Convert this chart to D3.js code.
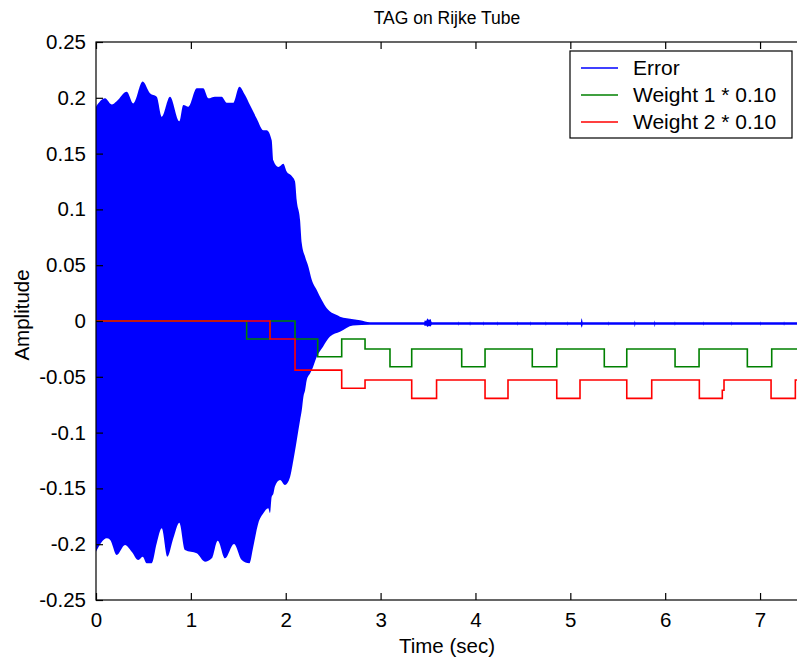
<!DOCTYPE html>
<html>
<head>
<meta charset="utf-8">
<script src="https://cdn.jsdelivr.net/npm/d3@7"></script>
<style>
  html, body { margin: 0; padding: 0; background: #ffffff; }
  svg { display: block; }
  text { font-family: "Liberation Sans", Arial, Helvetica, sans-serif; fill: #000; }
</style>
</head>
<body>
<svg id="chart" width="797" height="664"></svg>
<script>
// Time axis and amplitude ticks
const xTicks = [0, 1, 2, 3, 4, 5, 6, 7];
const yTicks = [0.25, 0.2, 0.15, 0.1, 0.05, 0, -0.05, -0.1, -0.15, -0.2, -0.25];
const yTickLabels = ["0.25", "0.2", "0.15", "0.1", "0.05", "0", "-0.05", "-0.1", "-0.15", "-0.2", "-0.25"];

// Error signal: oscillation envelope (upper and lower extremes over time)
const errUpperT = [0, 0.095, 0.165, 0.218, 0.324, 0.393, 0.492, 0.569, 0.640, 0.693, 0.780, 0.878, 0.920, 0.973,
  1.062, 1.131, 1.184, 1.254, 1.325, 1.378, 1.447, 1.511, 1.571, 1.623, 1.694, 1.764, 1.800, 1.852, 1.869, 1.922,
  1.975, 2.010, 2.063, 2.098, 2.116, 2.151, 2.169, 2.204, 2.239, 2.275, 2.327, 2.380, 2.433, 2.467, 2.538, 2.572,
  2.643, 2.783, 2.888];
const errUpperV = [0.192, 0.1995, 0.194, 0.197, 0.2055, 0.195, 0.2145, 0.204, 0.201, 0.183, 0.201, 0.179, 0.1935, 0.192,
  0.2085, 0.2085, 0.1995, 0.201, 0.201, 0.1956, 0.1956, 0.210, 0.2025, 0.1935, 0.1815, 0.171, 0.171, 0.162, 0.144, 0.138,
  0.141, 0.134, 0.130, 0.125, 0.108, 0.0905, 0.0696, 0.0576, 0.0487, 0.0367, 0.0278, 0.0188, 0.0114, 0.0085, 0.0054, 0.0039,
  0.0024, 0.0007, -0.0012];
const errLowerT = [0, 0.113, 0.148, 0.218, 0.306, 0.376, 0.446, 0.492, 0.534, 0.587, 0.640, 0.693, 0.752, 0.815, 0.878,
  0.938, 1.062, 1.149, 1.220, 1.283, 1.360, 1.455, 1.536, 1.616, 1.658, 1.711, 1.764, 1.816, 1.834, 1.852, 1.869,
  1.887, 1.940, 1.992, 2.045, 2.080, 2.116, 2.151, 2.169, 2.186, 2.204, 2.221, 2.256, 2.275, 2.327, 2.393, 2.467,
  2.572, 2.709, 2.888];
const errLowerV = [-0.2067, -0.1947, -0.196, -0.2097, -0.2007, -0.2067, -0.2142, -0.2112, -0.2171, -0.2171, -0.1992, -0.1858,
  -0.2112, -0.1947, -0.1807, -0.2052, -0.2082, -0.2157, -0.2127, -0.1968, -0.2127, -0.1998, -0.2142, -0.2171, -0.2022,
  -0.1813, -0.1723, -0.1678, -0.172, -0.1574, -0.155, -0.148, -0.1425, -0.147, -0.140, -0.125, -0.107, -0.089, -0.080,
  -0.068, -0.062, -0.053, -0.047, -0.044, -0.032, -0.023, -0.014, -0.0096, -0.004, -0.0033];

// Residual error after convergence: flat trace with brief bursts
const tailT = [3.000, 3.460, 3.465, 3.480, 3.495, 3.510, 3.525, 3.540, 3.820, 3.823, 3.826, 3.940, 3.943, 3.946,
  4.080, 4.083, 4.086, 4.230, 4.233, 4.236, 4.440, 4.443, 4.446, 4.580, 4.583, 4.586, 4.740, 4.743, 4.746,
  4.970, 4.973, 4.976, 5.110, 5.115, 5.120, 5.125, 5.130, 5.400, 5.403, 5.406, 5.675, 5.680, 5.685,
  5.885, 5.890, 5.895, 6.100, 6.103, 6.106, 6.400, 6.403, 6.406, 6.700, 6.703, 6.706, 7.000, 7.003, 7.006,
  7.250, 7.253, 7.256, 7.400];
const tailUpper = [-0.0012, -0.0012, 0.0005, 0.0002, 0.0022, 0.0010, 0.0018, -0.0012, -0.0012, -0.0002, -0.0012,
  -0.0012, -0.0002, -0.0012, -0.0012, -0.0002, -0.0012, -0.0012, -0.0002, -0.0012, -0.0012, -0.0002, -0.0012,
  -0.0012, -0.0002, -0.0012, -0.0012, -0.0002, -0.0012, -0.0012, -0.0002, -0.0012, -0.0012, 0.0010, 0.0025, 0.0008,
  -0.0012, -0.0012, -0.0002, -0.0012, -0.0012, 0.0005, -0.0012, -0.0012, 0.0005, -0.0012, -0.0012, -0.0002, -0.0012,
  -0.0012, -0.0002, -0.0012, -0.0012, -0.0002, -0.0012, -0.0012, -0.0002, -0.0012, -0.0012, -0.0002, -0.0012, -0.0012];
const tailLower = [-0.0033, -0.0033, -0.0045, -0.0040, -0.0052, -0.0045, -0.0050, -0.0033, -0.0033, -0.0044, -0.0033,
  -0.0033, -0.0044, -0.0033, -0.0033, -0.0044, -0.0033, -0.0033, -0.0044, -0.0033, -0.0033, -0.0044, -0.0033,
  -0.0033, -0.0044, -0.0033, -0.0033, -0.0044, -0.0033, -0.0033, -0.0044, -0.0033, -0.0033, -0.0048, -0.0060, -0.0050,
  -0.0033, -0.0033, -0.0044, -0.0033, -0.0033, -0.0055, -0.0033, -0.0033, -0.0055, -0.0033, -0.0033, -0.0044, -0.0033,
  -0.0033, -0.0044, -0.0033, -0.0033, -0.0044, -0.0033, -0.0033, -0.0044, -0.0033, -0.0033, -0.0044, -0.0033, -0.0033];

// Adaptive weights (scaled by 0.10), piecewise constant: value holds from each time on
const w1Times = [0, 1.588, 1.834, 2.098, 2.337, 2.590, 2.836, 3.099, 3.328, 3.855, 4.101, 4.599, 4.857, 5.358, 5.595,
  6.104, 6.357, 6.866, 7.123, 7.4];
const w1Values = [0, -0.0161, 0, -0.0161, -0.032, -0.0161, -0.0251, -0.041, -0.0251, -0.041, -0.0251, -0.041, -0.0251,
  -0.041, -0.0251, -0.041, -0.0251, -0.041, -0.0251, -0.0251];
const w2Times = [0, 1.834, 2.098, 2.590, 2.836, 3.328, 3.590, 4.101, 4.343, 4.857, 5.102, 5.595, 5.858, 6.360, 6.602,
  6.620, 7.116, 7.372, 7.4];
const w2Values = [0, -0.0161, -0.044, -0.0603, -0.0529, -0.0693, -0.0529, -0.0693, -0.0529, -0.0693, -0.0529, -0.0693,
  -0.0529, -0.0693, -0.062, -0.0529, -0.0693, -0.0529, -0.0529];

const seriesNames = ["Error", "Weight 1 * 0.10", "Weight 2 * 0.10"];
const seriesColors = ["#0000ff", "#008000", "#ff0000"];

const svg = d3.select("#chart");
const plotLeft = 96, plotRight = 798, plotTop = 42, plotBottom = 600;
const x = d3.scaleLinear().domain([0, 7.4]).range([plotLeft, plotRight]);
const y = d3.scaleLinear().domain([-0.25, 0.25]).range([plotBottom, plotTop]);

svg.append("defs").append("clipPath").attr("id", "plot-clip")
  .append("rect").attr("x", plotLeft).attr("y", plotTop)
  .attr("width", plotRight - plotLeft).attr("height", plotBottom - plotTop);

const plot = svg.append("g").attr("clip-path", "url(#plot-clip)");

// Error envelope: the upper half is filled down to a mid level, the lower half up to it (overlapping slightly)
const upperPts = errUpperT.map((t, i) => [t, errUpperV[i]]).concat(tailT.map((t, i) => [t, tailUpper[i]]));
const lowerPts = errLowerT.map((t, i) => [t, errLowerV[i]]).concat(tailT.map((t, i) => [t, tailLower[i]]));
const upperArea = d3.area().x(d => x(d[0])).y0(y(-0.0026)).y1(d => y(d[1])).curve(d3.curveMonotoneX);
const lowerArea = d3.area().x(d => x(d[0])).y0(d => y(d[1])).y1(y(-0.0018)).curve(d3.curveMonotoneX);
plot.append("path").attr("d", upperArea(upperPts)).attr("fill", seriesColors[0]);
plot.append("path").attr("d", lowerArea(lowerPts)).attr("fill", seriesColors[0]);

// Weight step traces
const stepLine = d3.line().x(d => x(d[0])).y(d => y(d[1])).curve(d3.curveStepAfter);
plot.append("path")
  .attr("d", stepLine(w1Times.map((t, i) => [t, w1Values[i]])))
  .attr("fill", "none").attr("stroke", seriesColors[1]).attr("stroke-width", 1.6);
plot.append("path")
  .attr("d", stepLine(w2Times.map((t, i) => [t, w2Values[i]])))
  .attr("fill", "none").attr("stroke", seriesColors[2]).attr("stroke-width", 1.6);

// Axes box with inward ticks
const tickLen = 7;
const fontSize = 20.5;
const axisG = svg.append("g").attr("stroke", "#000").attr("stroke-width", 1.2).attr("fill", "none");
axisG.append("rect").attr("x", plotLeft).attr("y", plotTop)
  .attr("width", plotRight - plotLeft).attr("height", plotBottom - plotTop);

const xBottom = d3.axisBottom(x).tickValues(xTicks).tickSizeInner(-tickLen).tickSizeOuter(0).tickPadding(12).tickFormat(d3.format("d"));
const gx = svg.append("g").attr("transform", `translate(0,${plotBottom})`).call(xBottom);
const xTopAxis = d3.axisTop(x).tickValues(xTicks).tickSizeInner(-tickLen).tickSizeOuter(0).tickFormat("");
const gxt = svg.append("g").attr("transform", `translate(0,${plotTop})`).call(xTopAxis);
const yLeft = d3.axisLeft(y).tickValues(yTicks).tickSizeInner(-tickLen).tickSizeOuter(0).tickPadding(10)
  .tickFormat((d, i) => yTickLabels[i]);
const gy = svg.append("g").attr("transform", `translate(${plotLeft},0)`).call(yLeft);

[gx, gxt, gy].forEach(g => {
  g.select(".domain").remove();
  g.selectAll(".tick line").attr("stroke", "#000").attr("stroke-width", 1.2);
  g.selectAll(".tick text").attr("font-size", fontSize).attr("font-family", null).attr("fill", "#000");
});

// Titles
svg.append("text").attr("x", (plotLeft + plotRight) / 2).attr("y", 24).attr("text-anchor", "middle")
  .attr("font-size", 17.5).text("TAG on Rijke Tube");
svg.append("text").attr("x", (plotLeft + plotRight) / 2).attr("y", 653).attr("text-anchor", "middle")
  .attr("font-size", fontSize).text("Time (sec)");
svg.append("text").attr("transform", `translate(29,${(plotTop + plotBottom) / 2 - 6}) rotate(-90)`).attr("text-anchor", "middle")
  .attr("font-size", fontSize).text("Amplitude");

// Legend
const lg = svg.append("g").attr("transform", "translate(570,51)");
lg.append("rect").attr("width", 222).attr("height", 87).attr("fill", "#fff").attr("stroke", "#000").attr("stroke-width", 1.2);
seriesNames.forEach((name, i) => {
  const cy = 17 + i * 27;
  lg.append("line").attr("x1", 11).attr("x2", 48).attr("y1", cy).attr("y2", cy)
    .attr("stroke", seriesColors[i]).attr("stroke-width", 1.6);
  lg.append("text").attr("x", 63).attr("y", cy).attr("dy", "0.35em").attr("font-size", 21).text(name);
});
</script>
</body>
</html>
